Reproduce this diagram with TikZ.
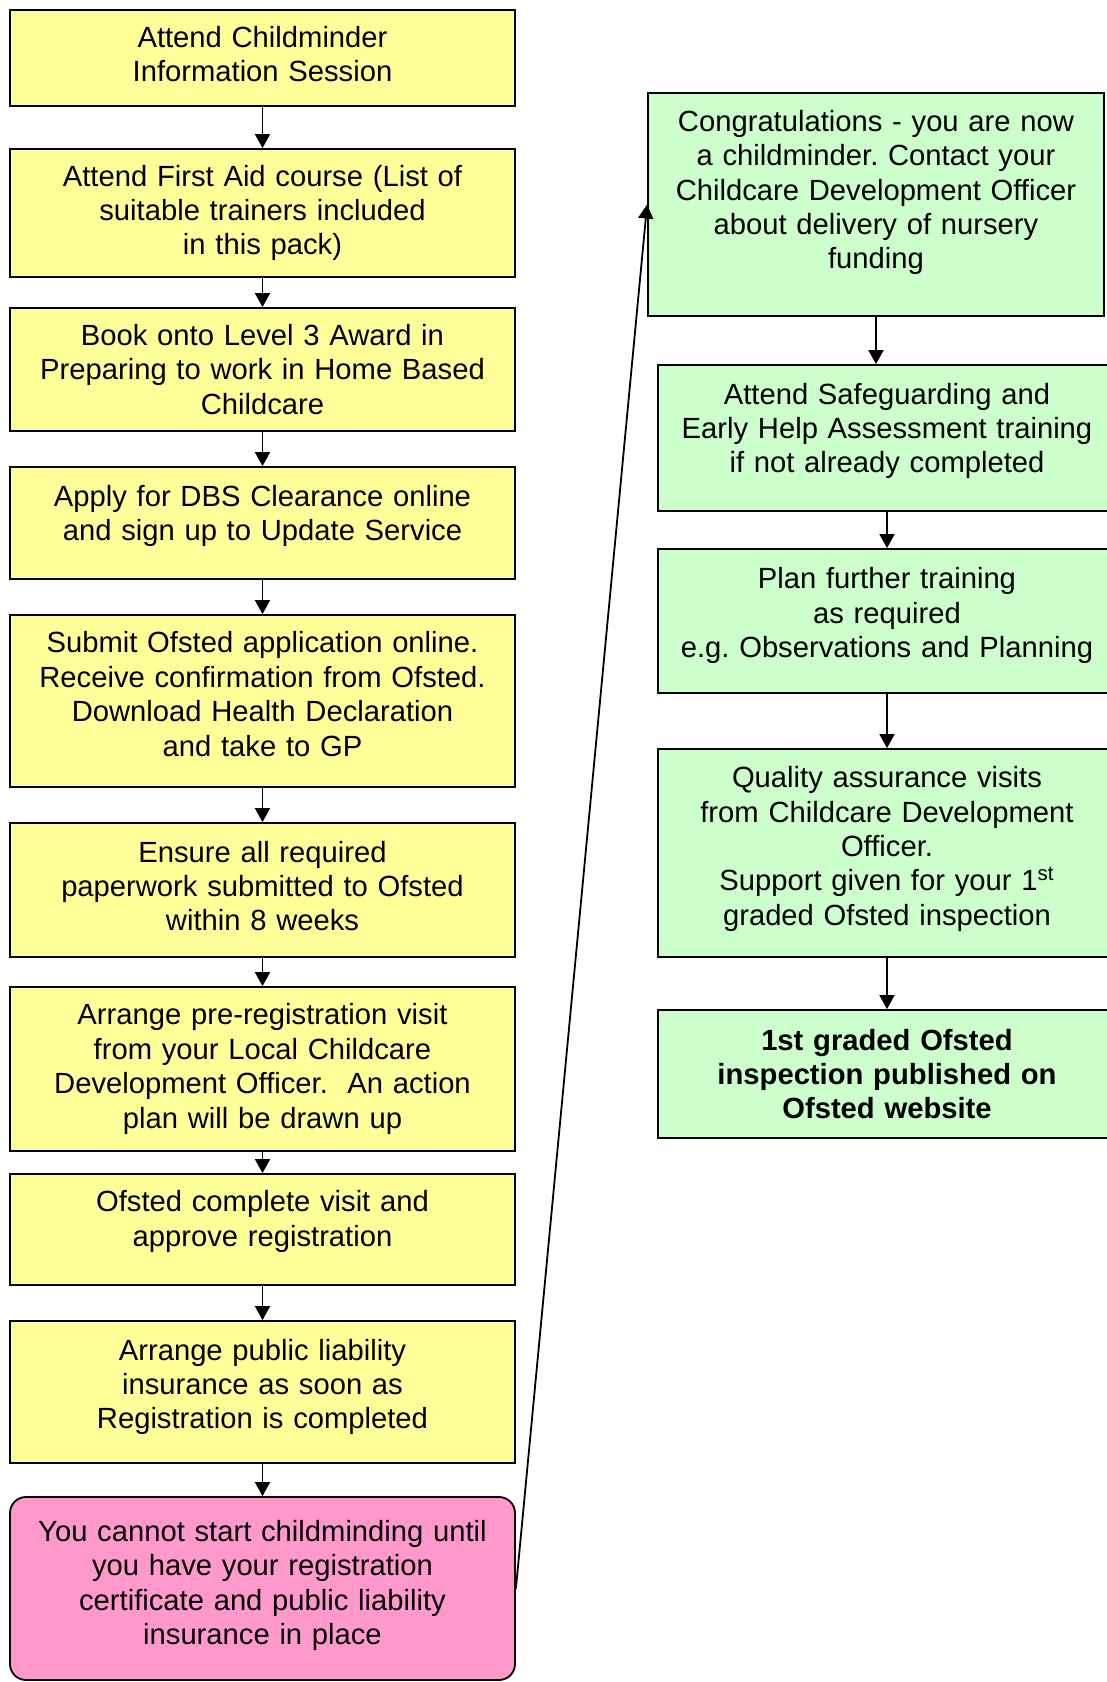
\documentclass[tikz,border=0pt]{standalone}
\usepackage{fontspec}
\setmainfont{Liberation Sans}
\usetikzlibrary{arrows.meta,positioning}
\frenchspacing

\definecolor{stepyellow}{HTML}{FFFF99}
\definecolor{stepgreen}{HTML}{CCFFCC}
\definecolor{steppink}{HTML}{FF99CC}

\begin{document}
\begin{tikzpicture}
    [x=0.5pt, y=-0.5pt,
    box/.style={draw, line width=0.9pt, align=center, inner sep=0pt,
      font=\fontsize{14.6pt}{17.2pt}\selectfont},
    leftbox/.style={box, fill=stepyellow, minimum width=252.5pt, text width=246pt},
    rightbox/.style={box, fill=stepgreen, minimum width=229pt, text width=222pt},
    lift/.style={execute at end node={\endgraf\vspace*{#1}}},
    flow/.style={-{Triangle[width=7.5pt,length=7pt]}, line width=0.9pt}]
    \useasboundingbox (0,0) rectangle (1107,1682);
    % left column
    \node[leftbox, minimum height=48pt, lift=4pt] (info) at (262.5,58)
      {Attend Childminder\\Information Session};
    \node[leftbox, minimum height=64pt] (firstaid) at (262.5,213)
      {Attend First Aid course (List of\\suitable trainers included\\in this pack)};
    \node[leftbox, minimum height=61.5pt] (level3) at (262.5,369.5)
      {Book onto Level 3 Award in\\Preparing to work in Home Based\\Childcare};
    \node[leftbox, minimum height=56pt, lift=7pt] (dbs) at (262.5,523)
      {Apply for DBS Clearance online\\and sign up to Update Service};
    \node[leftbox, minimum height=86pt, lift=7pt] (ofstedapp) at (262.5,701)
      {Submit Ofsted application online.\\Receive confirmation from Ofsted.\\Download Health Declaration\\and take to GP};
    \node[leftbox, minimum height=67pt, lift=4pt] (paperwork) at (262.5,890)
      {Ensure all required\\paperwork submitted to Ofsted\\within 8 weeks};
    \node[leftbox, minimum height=82pt] (previsit) at (262.5,1069)
      {Arrange pre-registration visit\\from your Local Childcare\\Development Officer.~ An action\\plan will be drawn up};
    \node[leftbox, minimum height=55.5pt, lift=8pt] (approve) at (262.5,1229.5)
      {Ofsted complete visit and\\approve registration};
    \node[leftbox, minimum height=71pt, lift=5pt] (insurance) at (262.5,1392)
      {Arrange public liability\\insurance as soon as\\Registration is completed};
    \node[leftbox, fill=steppink, rounded corners=8pt, minimum height=91.5pt, lift=3pt] (nostart) at (262.5,1588.5)
      {You cannot start childminding until\\you have your registration\\certificate and public liability\\insurance in place};
    % right column
    \node[rightbox, minimum width=228pt, minimum height=111.5pt, lift=12pt] (congrats) at (876,204.5)
      {Congratulations - you are now\\a childminder. Contact your\\Childcare Development Officer\\about delivery of nursery\\funding};
    \node[rightbox, minimum height=73pt, lift=7pt] (safeguard) at (887,438)
      {Attend Safeguarding and\\Early Help Assessment training\\if not already completed};
    \node[rightbox, minimum height=72pt, lift=5.5pt] (training) at (887,621)
      {Plan further training\\as required\\e.g. Observations and Planning};
    \node[rightbox, minimum height=104pt, lift=4pt] (quality) at (887,853)
      {Quality assurance visits\\from Childcare Development\\Officer.\\Support given for your 1\textsuperscript{st}\\graded Ofsted inspection};
    \node[rightbox, minimum height=64pt, font=\fontsize{14.6pt}{17.2pt}\selectfont\bfseries] (published) at (887,1074)
      {1st graded Ofsted\\inspection published on\\Ofsted website};

    \draw[flow] (info) -- (firstaid);
    \draw[flow] (firstaid) -- (level3);
    \draw[flow] (level3) -- (dbs);
    \draw[flow] (dbs) -- (ofstedapp);
    \draw[flow] (ofstedapp) -- (paperwork);
    \draw[flow] (paperwork) -- (previsit);
    \draw[flow] (previsit) -- (approve);
    \draw[flow] (approve) -- (insurance);
    \draw[flow] (insurance) -- (nostart);
    \draw[flow] (nostart.east) -- (congrats.west);
    \draw[flow] (congrats.south) -- (congrats.south |- safeguard.north);
    \draw[flow] (safeguard) -- (training);
    \draw[flow] (training) -- (quality);
    \draw[flow] (quality) -- (published);
\end{tikzpicture}
\end{document}
